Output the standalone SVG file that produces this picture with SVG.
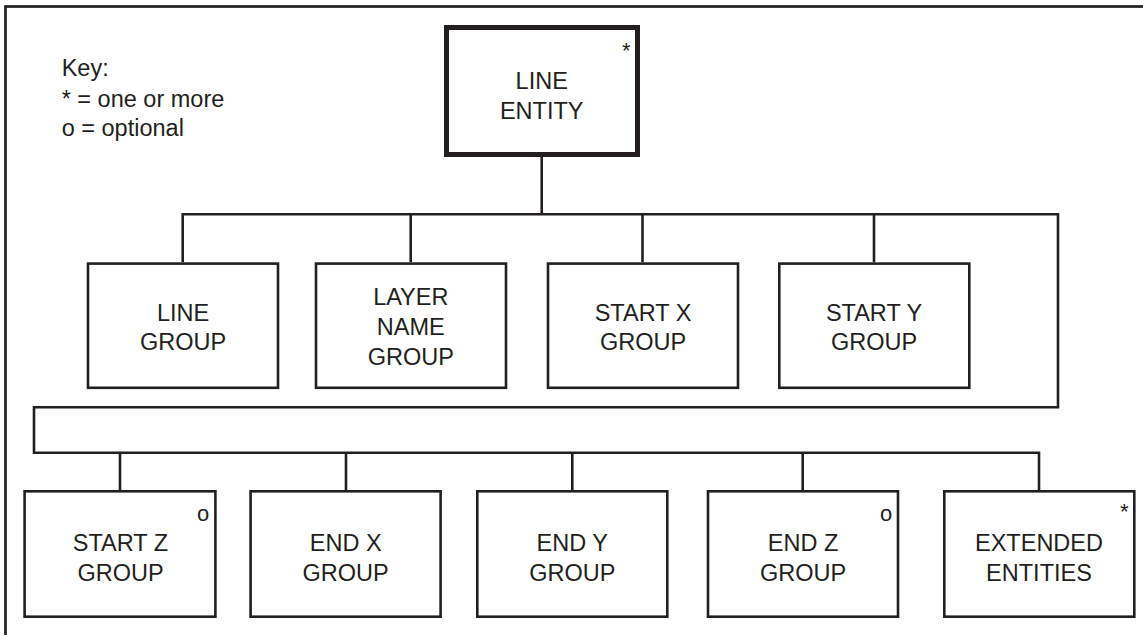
<svg xmlns="http://www.w3.org/2000/svg" width="1143" height="635" viewBox="0 0 1143 635">
<style>
.frame{fill:none;stroke:#231f20;stroke-width:2.7}
.box{fill:#fff;stroke:#231f20;stroke-width:2.6}
.root{fill:#fff;stroke:#231f20;stroke-width:5}
.conn{fill:none;stroke:#231f20;stroke-width:2.6}
text{font-family:"Liberation Sans",Arial,sans-serif;fill:#231f20}
.lbl{font-size:23.5px;text-anchor:middle}
.key{font-size:23.5px}
.mk{font-size:22px;text-anchor:middle}
</style>
<rect width="1143" height="635" fill="#fff"/>
<rect class="frame" x="5.5" y="6.5" width="1300" height="800"/>
<g id="key">
<text class="key" x="61.7" y="76">Key:</text>
<text class="key" x="61.7" y="106.5">* = one or more</text>
<text class="key" x="61.7" y="136">o = optional</text>
</g>
<g id="connectors">
<path class="conn" d="M541.7,157 V214.3"/>
<path class="conn" d="M182.7,262.3 V214.3 H1058 V407.3 H34 V452.7 H1039 V490"/>
<path class="conn" d="M410.7,214.3 V262.3 M642.5,214.3 V262.3 M874,214.3 V262.3"/>
<path class="conn" d="M120,452.7 V490 M346,452.7 V490 M572.3,452.7 V490 M802.7,452.7 V490"/>
</g>
<g id="line-entity">
<rect class="root" x="446.5" y="27.5" width="191" height="127"/>
<text class="lbl" x="541.7" y="89.3">LINE</text>
<text class="lbl" x="541.7" y="119">ENTITY</text>
<text class="mk" x="626.3" y="58">*</text>
</g>
<g id="line-group">
<rect class="box" x="88" y="263.6" width="190" height="124.2"/>
<text class="lbl" x="183" y="320.5">LINE</text>
<text class="lbl" x="183" y="350.3">GROUP</text>
</g>
<g id="layer-name-group">
<rect class="box" x="316" y="263.6" width="190" height="124.2"/>
<text class="lbl" x="410.8" y="305">LAYER</text>
<text class="lbl" x="410.8" y="335">NAME</text>
<text class="lbl" x="410.8" y="364.7">GROUP</text>
</g>
<g id="start-x-group">
<rect class="box" x="548" y="263.6" width="190" height="124.2"/>
<text class="lbl" x="643" y="320.5">START X</text>
<text class="lbl" x="643" y="350.3">GROUP</text>
</g>
<g id="start-y-group">
<rect class="box" x="779.3" y="263.6" width="190" height="124.2"/>
<text class="lbl" x="874" y="320.5">START Y</text>
<text class="lbl" x="874" y="350.3">GROUP</text>
</g>
<g id="start-z-group">
<rect class="box" x="24.6" y="491.3" width="190.8" height="125.4"/>
<text class="lbl" x="120.5" y="550.5">START Z</text>
<text class="lbl" x="120.5" y="580.5">GROUP</text>
<text class="mk" x="203" y="520.5">o</text>
</g>
<g id="end-x-group">
<rect class="box" x="250.6" y="491.3" width="190" height="125.4"/>
<text class="lbl" x="345.7" y="550.5">END X</text>
<text class="lbl" x="345.7" y="580.5">GROUP</text>
</g>
<g id="end-y-group">
<rect class="box" x="477.3" y="491.3" width="190" height="125.4"/>
<text class="lbl" x="572.3" y="550.5">END Y</text>
<text class="lbl" x="572.3" y="580.5">GROUP</text>
</g>
<g id="end-z-group">
<rect class="box" x="708" y="491.3" width="190" height="125.4"/>
<text class="lbl" x="803" y="550.5">END Z</text>
<text class="lbl" x="803" y="580.5">GROUP</text>
<text class="mk" x="886" y="520.5">o</text>
</g>
<g id="extended-entities">
<rect class="box" x="944.3" y="491.3" width="190" height="125.4"/>
<text class="lbl" x="1039" y="550.5">EXTENDED</text>
<text class="lbl" x="1039" y="580.5">ENTITIES</text>
<text class="mk" x="1124.3" y="519">*</text>
</g>
</svg>
